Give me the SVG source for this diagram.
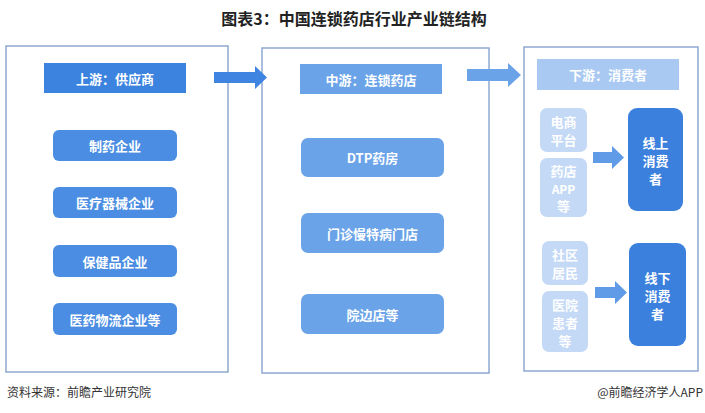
<svg xmlns="http://www.w3.org/2000/svg" width="705" height="413" viewBox="0 0 705 413">
<style>
.t{font-family:"Noto Sans CJK SC","Liberation Sans",sans-serif;font-weight:bold;fill:#fff;text-anchor:middle;dominant-baseline:central}
.panel{fill:#fff;stroke:#8ea8d2;stroke-width:1.5}
.n1{fill:#4a8de2}
.n2{fill:#6aa3e8}
.n3{fill:#c3d9f6}
.n4{fill:#3b80dd}
.foot{font-family:"Noto Sans CJK SC","Liberation Sans",sans-serif;font-size:12px;fill:#333}
</style>
<rect width="705" height="413" fill="#fff"/>
<text x="354" y="18" class="t" style="fill:#222;font-size:16px">图表3：中国连锁药店行业产业链结构</text>

<g id="upstream">
<rect class="panel" x="6" y="46" width="222" height="326"/>
<rect x="44" y="63" width="142" height="30" fill="#3c83e0"/>
<text class="t" x="115" y="78" font-size="13">上游：供应商</text>
</g>
<g id="u1"><rect class="n1" x="53" y="130" width="124" height="31" rx="6"/><text class="t" x="115" y="145.5" font-size="13">制药企业</text></g>
<g id="u2"><rect class="n1" x="53" y="187" width="124" height="31" rx="6"/><text class="t" x="115" y="202.5" font-size="13">医疗器械企业</text></g>
<g id="u3"><rect class="n1" x="53" y="245" width="124" height="32" rx="6"/><text class="t" x="115" y="261" font-size="13">保健品企业</text></g>
<g id="u4"><rect class="n1" x="53" y="303" width="124" height="32" rx="6"/><text class="t" x="115" y="319" font-size="13">医药物流企业等</text></g>

<g id="midstream">
<rect class="panel" x="262" y="48" width="227" height="325"/>
<rect x="300" y="64" width="142" height="30" fill="#6aa3e8"/>
<text class="t" x="371" y="79" font-size="13">中游：连锁药店</text>
</g>
<g id="m1"><rect class="n2" x="301" y="138" width="143" height="39" rx="7"/><text class="t" x="372.5" y="157.5" font-size="13">DTP药房</text></g>
<g id="m2"><rect class="n2" x="301" y="213" width="143" height="40" rx="7"/><text class="t" x="372.5" y="233" font-size="13">门诊慢特病门店</text></g>
<g id="m3"><rect class="n2" x="301" y="294" width="143" height="40" rx="7"/><text class="t" x="372.5" y="314" font-size="13">院边店等</text></g>

<g id="downstream">
<rect class="panel" x="524" y="47" width="174" height="324"/>
<rect x="537" y="59" width="142" height="31" fill="#a9c9f2"/>
<text class="t" x="608" y="74.5" font-size="13">下游：消费者</text>
</g>
<g id="d1"><rect class="n3" x="540" y="108" width="47" height="44" rx="7"/><text class="t" font-size="13"><tspan x="563.5" y="121">电商</tspan><tspan x="563.5" y="139">平台</tspan></text></g>
<g id="d2"><rect class="n3" x="540" y="158" width="47" height="59" rx="7"/><text class="t" font-size="13"><tspan x="563.5" y="170">药店</tspan><tspan x="563.5" y="187.5" font-size="12">APP</tspan><tspan x="563.5" y="205">等</tspan></text></g>
<g id="d3"><rect class="n3" x="542" y="241" width="46" height="44" rx="7"/><text class="t" font-size="13"><tspan x="565" y="254">社区</tspan><tspan x="565" y="272">居民</tspan></text></g>
<g id="d4"><rect class="n3" x="542" y="291" width="46" height="61" rx="7"/><text class="t" font-size="13"><tspan x="565" y="303.5">医院</tspan><tspan x="565" y="321.5">患者</tspan><tspan x="565" y="339.5">等</tspan></text></g>
<g id="online"><rect class="n4" x="628" y="108" width="55" height="103" rx="9"/><text class="t" font-size="13"><tspan x="655.5" y="142">线上</tspan><tspan x="655.5" y="160">消费</tspan><tspan x="655.5" y="178">者</tspan></text></g>
<g id="offline"><rect class="n4" x="629" y="243" width="57" height="103" rx="9"/><text class="t" font-size="13"><tspan x="657.5" y="277">线下</tspan><tspan x="657.5" y="295">消费</tspan><tspan x="657.5" y="313">者</tspan></text></g>

<g id="connectors">
<polygon fill="#3f84e0" points="214,72 255,72 255,66 267,77.5 255,89 255,83 214,83"/>
<polygon fill="#6aa3e8" points="467,69 508,69 508,63 521,75 508,87 508,81 467,81"/>
<polygon fill="#5f9be6" points="593,152 612,152 612,146 624,157.5 612,169 612,163 593,163"/>
<polygon fill="#5f9be6" points="595,287 615,287 615,281 627,292.5 615,304 615,298 595,298"/>
</g>

<text class="foot" x="7" y="397">资料来源：前瞻产业研究院</text>
<text class="foot" x="703" y="397" text-anchor="end">@前瞻经济学人APP</text>
</svg>
